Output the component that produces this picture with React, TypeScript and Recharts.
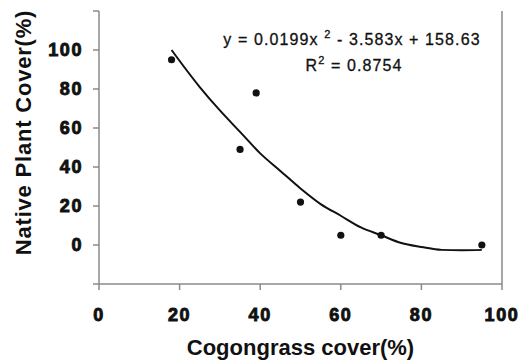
import {
  ComposedChart, Scatter, Line, XAxis, YAxis, ReferenceLine, Label, Customized,
} from "recharts";

// observed points: cogongrass cover (%) vs native plant cover (%)
const cogonCover = [18, 35, 39, 50, 60, 70, 95];
const nativeCover = [95, 49, 78, 22, 5, 5, 0];

// fitted curve
const trendX = [18, 25, 30, 35, 40, 45, 50, 55, 60, 65, 70, 75, 80, 85, 90, 95];
const trendY = [100, 81, 69, 58, 47, 38, 29, 21, 15, 9, 5, 1, -1, -2.5, -2.7, -2.5];

const xTicks = [0, 20, 40, 60, 80, 100];
const yTicks = [-20, 0, 20, 40, 60, 80, 100, 120];

const points = cogonCover.map((x, i) => ({ x, y: nativeCover[i] }));
const trend = trendX.map((x, i) => ({ x, y: trendY[i] }));

const FONT = '"Liberation Sans", Arial, Helvetica, sans-serif';
const AXIS = "#8a8a8a";

const tickStyle = {
  fontFamily: FONT,
  fontSize: "18px",
  fontWeight: 700,
  letterSpacing: "1.6px",
  fill: "#111",
  stroke: "#111",
  strokeWidth: 0.9,
};

function renderXTick(props: any) {
  const { x, y, payload } = props;
  return (
    <text x={x} y={y + 29} textAnchor="middle" style={tickStyle}>
      {payload.value}
    </text>
  );
}

function renderYTick(props: any) {
  const { x, y, payload } = props;
  if (payload.value < 0 || payload.value > 100) return <g />;
  return (
    <text x={x} y={y + 6} textAnchor="end" style={tickStyle}>
      {payload.value}
    </text>
  );
}

function Dot({ cx, cy }: any) {
  return <circle cx={cx} cy={cy} r={3.6} fill="#111" />;
}

function Equation() {
  return (
    <g fontFamily={FONT} fill="#111" textAnchor="middle" stroke="#111" strokeWidth={0.3}>
      <text x={352} y={45} fontSize={16} letterSpacing={1.1}>
        y = 0.0199x <tspan dy={-7} fontSize={11}>2</tspan>
        <tspan dy={7}> - 3.583x + 158.63</tspan>
      </text>
      <text x={354} y={71} fontSize={16} letterSpacing={1.1}>
        R<tspan dy={-7} fontSize={11}>2</tspan>
        <tspan dy={7}> = 0.8754</tspan>
      </text>
    </g>
  );
}

export default function App() {
  return (
    <div style={{ position: "absolute", left: 0, top: 0, background: "#fff" }}>
      <ComposedChart
        width={524}
        height={362}
        margin={{ top: 11, right: 22, left: 39, bottom: 0 }}
        style={{ fontFamily: FONT }}
      >
        <XAxis
          type="number"
          dataKey="x"
          domain={[0, 100]}
          ticks={xTicks}
          interval={0}
          height={78}
          stroke={AXIS}
          strokeWidth={1.5}
          tickSize={6}
          tickMargin={2}
          tick={renderXTick}
        >
          <Label
            content={({ viewBox }: any) => (
              <text
                x={viewBox.x + viewBox.width / 2}
                y={viewBox.y + 71}
                textAnchor="middle"
                fontSize={22}
                fontWeight={700}
                fill="#111"
                fontFamily={FONT}
              >
                Cogongrass cover(%)
              </text>
            )}
          />
        </XAxis>
        <YAxis
          type="number"
          dataKey="y"
          domain={[-20, 120]}
          ticks={yTicks}
          interval={0}
          width={60}
          allowDataOverflow
          stroke={AXIS}
          strokeWidth={1.5}
          tickSize={6}
          tickMargin={10}
          tick={renderYTick}
        >
          <Label
            content={({ viewBox }: any) => {
              const cx = viewBox.x - 16;
              const cy = viewBox.y + viewBox.height / 2 - 15;
              return (
                <text
                  x={cx}
                  y={cy}
                  transform={`rotate(-90 ${cx} ${cy})`}
                  textAnchor="middle"
                  dominantBaseline="central"
                  fontSize={22}
                  fontWeight={700}
                  letterSpacing={0.8}
                  fill="#111"
                  fontFamily={FONT}
                >
                  Native Plant Cover(%)
                </text>
              );
            }}
          />
        </YAxis>
        <ReferenceLine x={100} stroke={AXIS} strokeWidth={1.5} />
        <Line
          data={trend}
          dataKey="y"
          type="monotone"
          stroke="#111"
          strokeWidth={2}
          dot={false}
          isAnimationActive={false}
        />
        <Scatter
          data={points}
          dataKey="y"
          fill="#111"
          shape={<Dot />}
          isAnimationActive={false}
        />
        <Customized component={Equation} />
      </ComposedChart>
    </div>
  );
}
